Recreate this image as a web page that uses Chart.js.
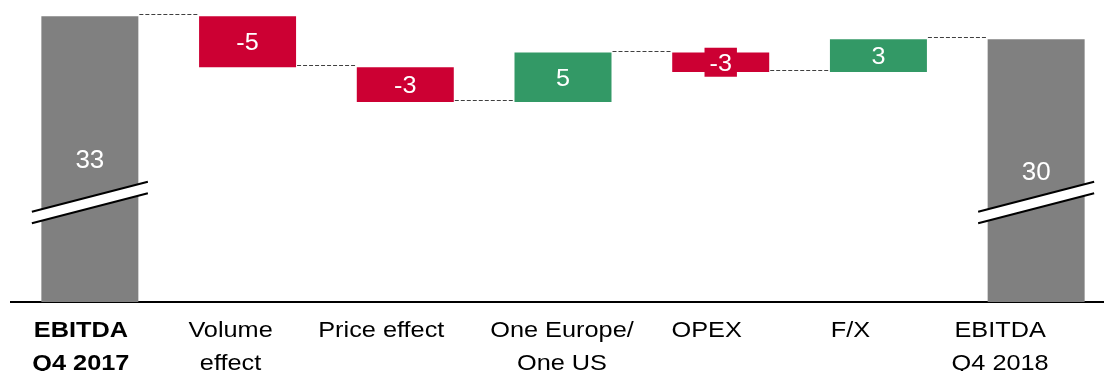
<!DOCTYPE html>
<html>
<head>
<meta charset="utf-8">
<script src="https://cdn.jsdelivr.net/npm/chart.js@4.4.1/dist/chart.umd.min.js"></script>
<style>
  html, body { margin: 0; padding: 0; background: #fff; overflow: hidden; }
  #wrap { position: relative; width: 1116px; height: 371px; }
</style>
</head>
<body>
<div id="wrap"><canvas id="bridge"></canvas></div>
<script>
const categories = [['EBITDA', 'Q4 2017'], ['Volume', 'effect'], ['Price effect'], ['One Europe/', 'One US'], ['OPEX'], ['F/X'], ['EBITDA', 'Q4 2018']];
const startValue = 33;
const deltas = [-5.0, -3.4, 4.85, -1.9, 3.2];
const endValue = 30.75;
const valueLabels = ['33', '-5', '-3', '5', '-3', '3', '30'];
const axisMin = 5;
const axisMax = 34.6;
const breakAt = 14.75;

const GRAY = '#808080', RED = '#CC0033', GREEN = '#339966';
const FONT = "'Liberation Sans', Arial, sans-serif";
const labelNudge = [-9, -17, -24, -1, -14, -28, -36];

// floating ranges for the waterfall
const ranges = [[axisMin, startValue]];
let level = startValue;
deltas.forEach(d => { ranges.push([level, level + d]); level += d; });
ranges.push([axisMin, endValue]);

const colors = ranges.map((r, i) => {
    if (i === 0 || i === ranges.length - 1) return GRAY;
    return deltas[i - 1] < 0 ? RED : GREEN;
});

function wideText(ctx, text, x, y, font, color, stretch) {
    ctx.save();
    ctx.font = font;
    ctx.fillStyle = color;
    ctx.textAlign = 'center';
    ctx.textBaseline = 'alphabetic';
    ctx.translate(x, y);
    ctx.scale(stretch, 1);
    ctx.fillText(text, 0, 0);
    ctx.restore();
}

const waterfallExtras = {
    id: 'waterfallExtras',
    afterDatasetsDraw(chart) {
        const ctx = chart.ctx;
        const y = chart.scales.y;
        const bars = chart.getDatasetMeta(0).data.map(b => b.getProps(['x', 'y', 'base', 'width'], true));
        const last = bars.length - 1;

        // dashed connectors
        ctx.save();
        ctx.strokeStyle = '#404040';
        ctx.lineWidth = 1;
        ctx.setLineDash([4, 2]);
        for (let i = 0; i < last; i++) {
            const py = Math.round(y.getPixelForValue(ranges[i][1])) - 1.5;
            const x1 = bars[i].x + bars[i].width / 2 + 1;
            const x2 = bars[i + 1].x - bars[i + 1].width / 2 - 1;
            ctx.beginPath();
            ctx.moveTo(x1, py);
            ctx.lineTo(x2, py);
            ctx.stroke();
        }
        ctx.restore();

        // axis break marks on the two totals
        [0, last].forEach(i => {
            const cx = bars[i].x;
            const cy = y.getPixelForValue(breakAt);
            const h = 58, slope = 30 / 116, gap = 11.6;
            const xl = cx - h, xr = cx + h;
            const uL = cy - gap / 2 + slope * h, uR = cy - gap / 2 - slope * h;
            ctx.save();
            ctx.fillStyle = '#fff';
            ctx.beginPath();
            ctx.moveTo(xl, uL);
            ctx.lineTo(xr, uR);
            ctx.lineTo(xr, uR + gap);
            ctx.lineTo(xl, uL + gap);
            ctx.closePath();
            ctx.fill();
            ctx.strokeStyle = '#000';
            ctx.lineWidth = 2;
            ctx.beginPath();
            ctx.moveTo(xl, uL); ctx.lineTo(xr, uR);
            ctx.moveTo(xl, uL + gap); ctx.lineTo(xr, uR + gap);
            ctx.stroke();
            ctx.restore();
        });

        // value labels
        bars.forEach((b, i) => {
            const cy = (b.y + b.base) / 2;
            const total = i === 0 || i === last;
            const size = total ? 26 : 24;
            const stretch = total ? 1 : 1.05;
            const font = size + 'px ' + FONT;
            if (Math.abs(b.base - b.y) < 26) {
                ctx.save();
                ctx.font = font;
                const w = ctx.measureText(valueLabels[i]).width * stretch + 10;
                ctx.fillStyle = colors[i];
                ctx.fillRect(b.x - w / 2, cy - 14.5, w, 29);
                ctx.restore();
            }
            wideText(ctx, valueLabels[i], b.x, cy + size * 0.358, font, '#fff', stretch);
        });
    },
    afterDraw(chart) {
        const ctx = chart.ctx;
        const x = chart.scales.x;
        const top = chart.chartArea.bottom;
        categories.forEach((lines, i) => {
            const px = x.getPixelForValue(i) + labelNudge[i];
            const font = (i === 0 ? 'bold ' : '') + '22px ' + FONT;
            lines.forEach((t, k) => {
                wideText(ctx, t, px, top + 34.5 + k * 33, font, '#000', 1.15);
            });
        });
    }
};

new Chart(document.getElementById('bridge'), {
    type: 'bar',
    data: {
        labels: categories,
        datasets: [{
            data: ranges,
            backgroundColor: colors,
            borderWidth: 0,
            borderSkipped: false,
            categoryPercentage: 1,
            barPercentage: 0.615
        }]
    },
    options: {
        responsive: true,
        maintainAspectRatio: false,
        animation: false,
        layout: { padding: { left: 11, right: 1, top: 0, bottom: 0 } },
        plugins: {
            legend: { display: false },
            tooltip: { enabled: false }
        },
        scales: {
            x: {
                grid: { display: false, drawTicks: false },
                border: { display: true, color: '#000', width: 2 },
                ticks: { display: false },
                afterFit(scale) { scale.height = 69; }
            },
            y: { display: false, min: axisMin, max: axisMax }
        }
    },
    plugins: [waterfallExtras]
});
</script>
</body>
</html>
